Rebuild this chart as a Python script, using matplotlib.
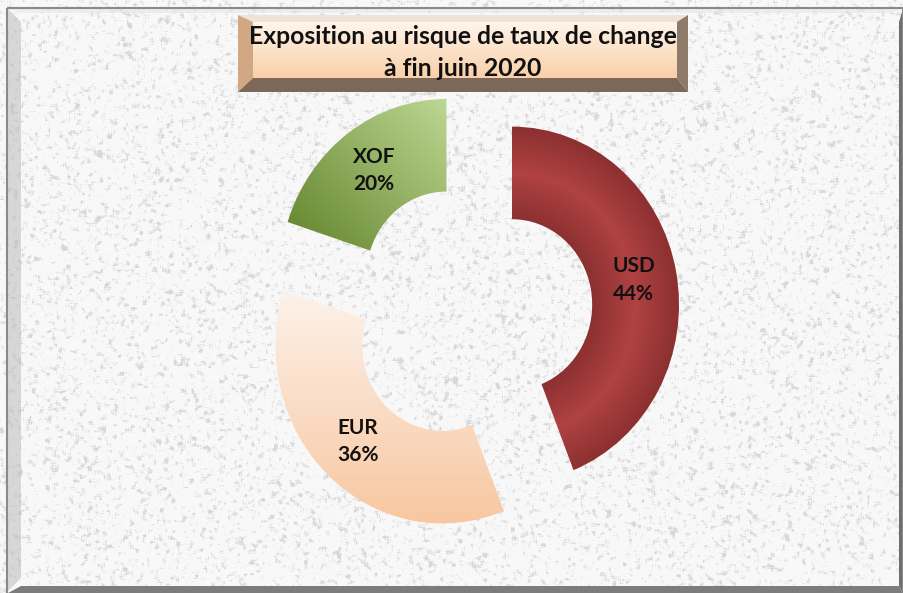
import numpy as np
import matplotlib
matplotlib.use("Agg")
import matplotlib.pyplot as plt
from matplotlib.patches import Polygon, Rectangle
from matplotlib.colors import to_rgb

# data
currencies = ["USD", "EUR", "XOF"]
shares = [44, 36, 20]
title_lines = ["Exposition au risque de taux de change", "à fin juin 2020"]

W, H = 904, 593
plt.rcParams["font.family"] = ["Lato", "DejaVu Sans"]

fig = plt.figure(figsize=(W / 100, H / 100), dpi=100)

# background: granite-like texture, drawn in pixel coords
bg = fig.add_axes([0, 0, 1, 1])
bg.set_xlim(0, W)
bg.set_ylim(H, 0)
bg.axis("off")

rng = np.random.default_rng(3)
noise = rng.random((H + 6, W + 6))
sm = np.zeros((H, W))
for dy in range(4):
    for dx in range(4):
        sm += noise[dy:dy + H, dx:dx + W]
sm /= 16.0
speck = np.clip((sm - 0.54) / 0.12, 0, 1)
grey = 0.975 - 0.13 * speck
tex = np.dstack([grey, grey, grey])
bg.imshow(tex, extent=(0, W, H, 0), interpolation="bicubic", aspect="auto", zorder=0)

# frame bevels
bg.add_patch(Polygon([(8, 9), (21, 22), (21, 578), (8, 591)], closed=True,
                     facecolor="#bdbdbd", alpha=0.55, edgecolor="none", zorder=1))
bg.add_patch(Polygon([(8, 9), (902, 9), (889, 13), (21, 13)], closed=True,
                     facecolor="#e6e6e6", alpha=0.6, edgecolor="none", zorder=1))
bg.add_patch(Polygon([(903, 9), (903, 593), (899, 586), (899, 22)], closed=True,
                     facecolor="#6e6e6e", edgecolor="none", zorder=1))
bg.add_patch(Polygon([(8, 593), (903, 593), (899, 586), (21, 586)], closed=True,
                     facecolor="#7c7c7c", edgecolor="none", zorder=1))
bg.add_patch(Rectangle((7, 8), 896, 590, fill=False, edgecolor="#8a8a8a", linewidth=1.5, zorder=2))

# title box with bevel
L, T, R, B = 238, 15, 688, 92
l, t, r, b = 253, 22, 677, 78
face = np.linspace(0, 1, 60)[:, None]
c_top, c_bot = np.array(to_rgb("#fff4ea")), np.array(to_rgb("#f9d0a8"))
grad = c_top[None, None, :] * (1 - face[..., None]) + c_bot[None, None, :] * face[..., None]
grad = np.repeat(grad, 2, axis=1)
bg.imshow(grad, extent=(l, r, b, t), aspect="auto", zorder=3, interpolation="bilinear")
bg.add_patch(Polygon([(L, T), (R, T), (r, t), (l, t)], closed=True, facecolor="#efe2d6", edgecolor="none", zorder=3))
bg.add_patch(Polygon([(L, T), (l, t), (l, b), (L, B)], closed=True, facecolor="#d2a884", edgecolor="none", zorder=3))
bg.add_patch(Polygon([(R, T), (R, B), (r, b), (r, t)], closed=True, facecolor="#8e7a68", edgecolor="none", zorder=3))
bg.add_patch(Polygon([(L, B), (R, B), (r, b), (l, b)], closed=True, facecolor="#7b6858", edgecolor="none", zorder=3))
bg.text(463, 44, title_lines[0], ha="center", va="baseline", fontsize=17.8,
        fontweight="bold", color="#111111", zorder=4)
bg.text(463, 76, title_lines[1], ha="center", va="baseline", fontsize=17.8,
        fontweight="bold", color="#111111", zorder=4)

# donut
ax = fig.add_axes([0, 0, 1, 1])
ax.patch.set_alpha(0)
ring = 0.52
wedges, _, autotexts = ax.pie(
    shares, startangle=90, counterclock=False, explode=[0.25] * 3,
    wedgeprops=dict(width=ring, edgecolor="none"), autopct=lambda p: "",
    pctdistance=1 - ring / 2,
    textprops=dict(fontsize=15, fontweight="bold", color="#111111", linespacing=1.45),
)
x0, x1 = -471 / 167, (W - 471) / 167
y0, y1 = -(H - 313) / 178, 313 / 178
ax.set_aspect("auto")
ax.set_xlim(x0, x1)
ax.set_ylim(y0, y1)
ax.axis("off")

X, Y = np.meshgrid(np.linspace(x0, x1, W), np.linspace(y1, y0, H))


def blend(c1, c2, tt):
    c1, c2 = np.array(to_rgb(c1)), np.array(to_rgb(c2))
    tt = np.clip(tt, 0, 1)[..., None]
    return c1 * (1 - tt) + c2 * tt


for w, name in zip(wedges, currencies):
    cx, cy = w.center
    if name == "USD":
        rr = np.hypot(X - cx, Y - cy)
        img = blend("#b04242", "#8c3030", np.abs(rr - (1 - ring / 2)) / (ring / 2))
    elif name == "XOF":
        u = ((X - cx) + (Y - cy)) / np.sqrt(2)
        img = blend("#6a8a34", "#bcd792", (u + 0.45) / 1.15)
    else:
        img = blend("#f8c7a0", "#fdf2ea", (Y - cy + 1) / 1.3)
    im = ax.imshow(img, extent=(x0, x1, y0, y1), aspect="auto", zorder=2, interpolation="bilinear")
    im.set_clip_path(w)
    w.set_facecolor("none")

ax.set_xlim(x0, x1)
ax.set_ylim(y0, y1)

for txt, name, v in zip(autotexts, currencies, shares):
    txt.set_text(f"{name}\n{v}%")
    txt.set_zorder(5)

fig.savefig("out.png", dpi=100)
